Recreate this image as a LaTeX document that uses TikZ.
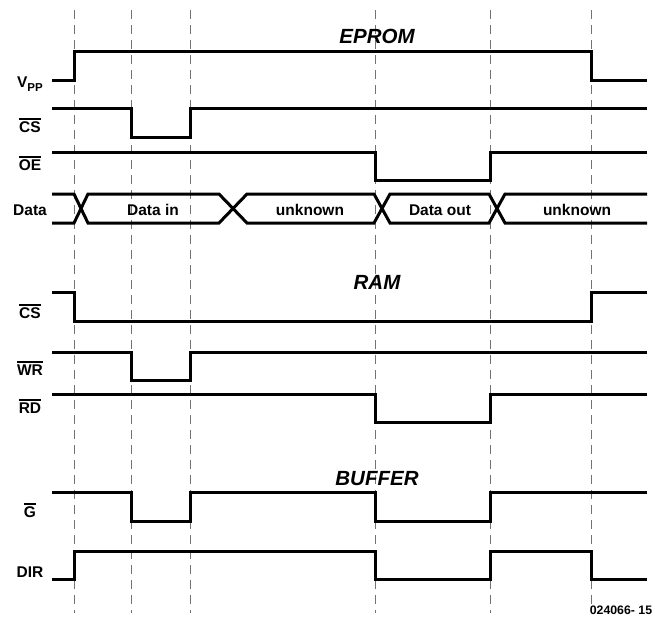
\documentclass[tikz,border=0pt]{standalone}
\usepackage{fontspec}
\setmainfont{Liberation Sans}
\newcommand{\ovl}[1]{\leavevmode\vbox{\hrule height 1.5pt \kern 1.6pt \hbox{#1}}}
\begin{document}
\begin{tikzpicture}[x=1pt, y=-1pt,
  sig/.style={line width=3pt, line join=miter},
  mark line/.style={black!55, line width=1pt, dash pattern=on 9pt off 6pt},
  lbl/.style={font=\fontsize{15.5}{18}\selectfont\bfseries, inner sep=0pt, anchor=base},
  title/.style={font=\fontsize{20.5}{24}\selectfont\bfseries\itshape, inner sep=0pt, anchor=base}]
\useasboundingbox (0,0) rectangle (655,619);
% time marks
\foreach \t in {74,131,190,375,490,591}
  \draw[mark line] (\t,10) -- (\t,613);
% EPROM
\node[title] (eprom) at (377,43) {EPROM};
\node[lbl] (vpp) at (30,87) {V\raisebox{-0.3em}{\fontsize{11.5}{12}\selectfont PP}};
\node[lbl] (cs1) at (30,132) {\ovl{CS}};
\node[lbl] (oe) at (30,170) {\ovl{OE}};
\node[lbl] (data) at (30,215) {Data};
\draw[sig] (52,80) -| (74,51) -| (591,80) -- (647,80);
\draw[sig] (52,108) -| (131,137) -| (190,108) -- (647,108);
\draw[sig] (52,152) -| (375,180) -| (490,152) -- (647,152);
\draw[sig] (52,194) -- (74,194) -- (88,223) -- (219,223) -- (247,194) -- (374,194)
  -- (390,223) -- (489,223) -- (505,194) -- (647,194);
\draw[sig] (52,223) -- (74,223) -- (88,194) -- (219,194) -- (247,223) -- (374,223)
  -- (390,194) -- (489,194) -- (505,223) -- (647,223);
\node[lbl] (din) at (153,215) {Data in};
\node[lbl] (unk1) at (310,215) {unknown};
\node[lbl] (dout) at (440,215) {Data out};
\node[lbl] (unk2) at (577,215) {unknown};
% RAM
\node[title] (ram) at (377,289) {RAM};
\node[lbl] (cs2) at (30,318) {\ovl{CS}};
\node[lbl] (wr) at (30,375) {\ovl{WR}};
\node[lbl] (rd) at (30,413) {\ovl{RD}};
\draw[sig] (52,292) -| (74,321) -| (591,292) -- (647,292);
\draw[sig] (52,352) -| (131,380) -| (190,352) -- (647,352);
\draw[sig] (52,394) -| (375,422) -| (490,394) -- (647,394);
% BUFFER
\node[title] (buffer) at (377,485) {BUFFER};
\node[lbl] (g) at (30,517) {\ovl{G}};
\node[lbl] (dir) at (30,577) {DIR};
\draw[sig] (52,492) -| (131,521) -| (190,492) -| (375,521) -| (490,492) -- (647,492);
\draw[sig] (52,579) -| (74,551) -| (375,579) -| (490,551) -| (591,579) -- (647,579);
\node[lbl, font=\fontsize{12.3}{14}\selectfont\bfseries] (fig) at (621,614) {024066- 15};
\end{tikzpicture}
\end{document}
